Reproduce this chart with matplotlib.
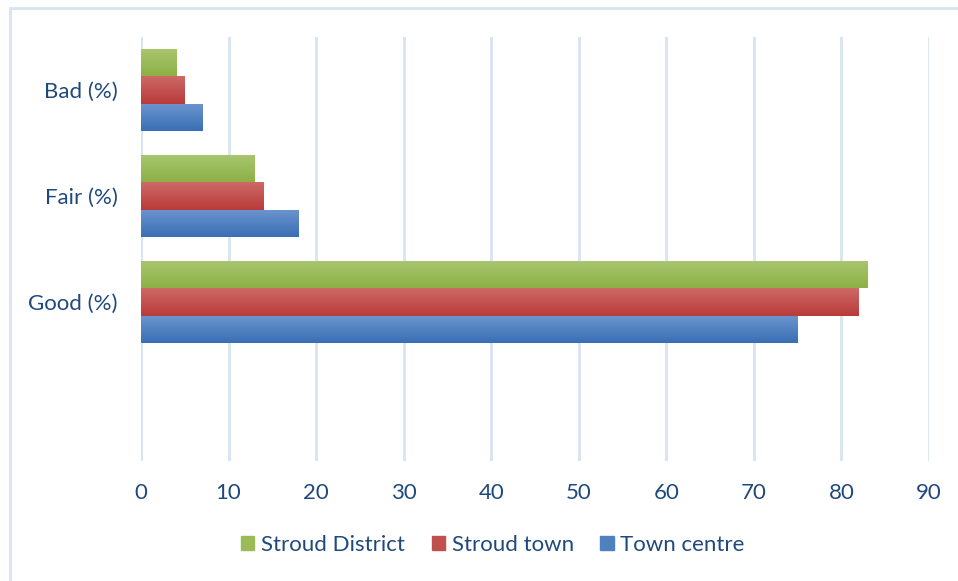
import matplotlib
matplotlib.use("Agg")
import matplotlib.pyplot as plt
import numpy as np
from matplotlib.colors import LinearSegmentedColormap
from matplotlib.lines import Line2D
from matplotlib.patches import Rectangle

categories = ["", "Good (%)", "Fair (%)", "Bad (%)"]
series_names = ["Town centre", "Stroud town", "Stroud District"]
town_centre = [None, 75, 18, 7]
stroud_town = [None, 82, 14, 5]
stroud_district = [None, 83, 13, 4]
x_ticks = [0, 10, 20, 30, 40, 50, 60, 70, 80, 90]

series_values = [town_centre, stroud_town, stroud_district]
# (top colour, bottom colour)
grad_colors = [("#6C95CF", "#3A6FB4"), ("#CE6966", "#B83B39"), ("#A9C66F", "#8CB145")]
solid_colors = ["#4F81BD", "#C0504D", "#9BBB59"]
text_color = "#1F497D"
grid_color = "#D7E4F4"

plt.rcParams['font.family'] = ['Lato', 'DejaVu Sans']

fig = plt.figure(figsize=(9.58, 5.81), dpi=100)
ax = fig.add_axes([141/958, 1 - 461/581, (929-141)/958, (461-37)/581])

n = len(series_values)
bar_h = 0.255
offsets = [(i - (n - 1) / 2) * bar_h for i in range(n)]
y = np.arange(len(categories))

grad = np.linspace(0, 1, 64).reshape(-1, 1)
for vals, off, (ctop, cbot), sc, name in zip(series_values, offsets, grad_colors, solid_colors, series_names):
    cmap = LinearSegmentedColormap.from_list(name, [cbot, ctop])
    ys, ws = [], []
    for yi, v in zip(y, vals):
        if v is None:
            continue
        ys.append(yi + off)
        ws.append(v)
    bars = ax.barh(ys, ws, height=bar_h, color=sc, label=name, zorder=2, linewidth=0)
    for b in bars:
        x0, y0 = b.get_x(), b.get_y()
        w, h = b.get_width(), b.get_height()
        im = ax.imshow(grad, cmap=cmap, aspect='auto', origin='lower',
                       extent=[x0, x0 + w, y0, y0 + h], zorder=3, interpolation='bilinear')
        im.set_clip_path(b)

ax.set_xlim(0, 90)
ax.set_ylim(-0.5, len(categories) - 0.5)
ax.set_xticks(x_ticks)
ax.set_yticks(y)
ax.set_yticklabels(categories)
ax.xaxis.grid(True, color=grid_color, linewidth=2, zorder=0)
ax.set_axisbelow(True)
for s in ax.spines.values():
    s.set_visible(False)
ax.tick_params(axis='both', length=0, colors=text_color, labelsize=16)
ax.tick_params(axis='x', pad=16)
ax.tick_params(axis='y', pad=17)

handles = [Rectangle((0, 0), 1, 1, color=c) for c in solid_colors[::-1]]
leg = fig.legend(handles, series_names[::-1], loc='center', bbox_to_anchor=(493/958, 1 - 545/581),
                 ncol=3, frameon=False, fontsize=16, handlelength=0.6, handleheight=0.6,
                 handletextpad=0.3, columnspacing=1.2)
for t in leg.get_texts():
    t.set_color(text_color)

fig.add_artist(Line2D([10/958, 10/958], [0, 1 - 8/581], color=grid_color, linewidth=2, transform=fig.transFigure))
fig.add_artist(Line2D([10/958, 1], [1 - 8/581, 1 - 8/581], color=grid_color, linewidth=2, transform=fig.transFigure))

fig.savefig("out.png", dpi=100)
